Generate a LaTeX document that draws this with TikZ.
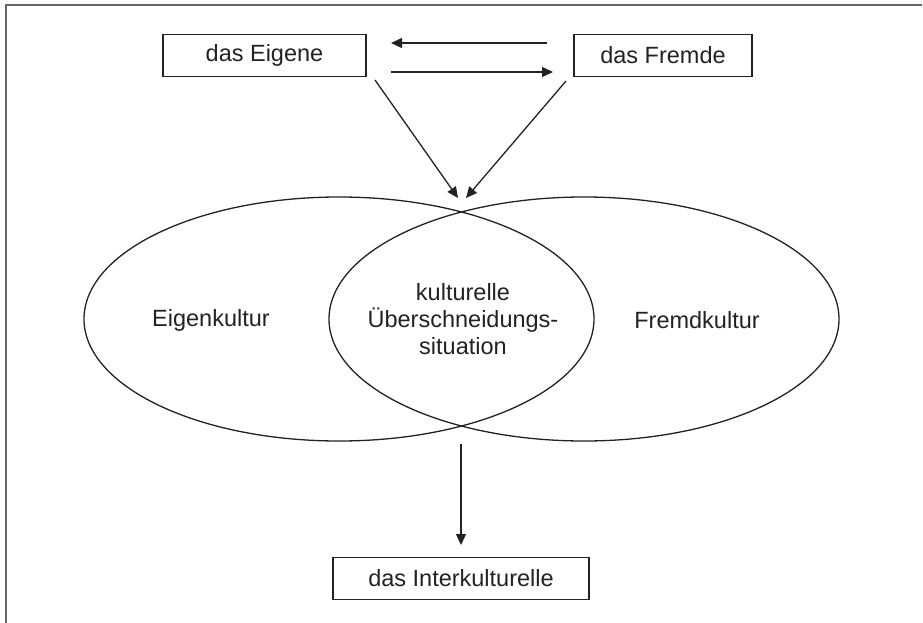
\documentclass[tikz,border=0pt]{standalone}
\usepackage{fontspec}
\setmainfont{Liberation Sans}
\usetikzlibrary{shapes.geometric,arrows.meta}
\definecolor{ink}{HTML}{222222}
\definecolor{framegray}{HTML}{666666}
\begin{document}
\begin{tikzpicture}[x=1pt, y=-1pt, >={Triangle[length=11pt,width=10pt]},
        every node/.style={font=\fontsize{23.5}{27}\selectfont, text=ink},
        box/.style={draw=ink, line width=1.3pt, minimum height=42pt, inner sep=0pt},
        culture/.style={ellipse, draw=ink, line width=1.3pt, minimum width=510pt, minimum height=244pt, inner sep=0pt},
        link/.style={->, draw=ink, line width=1.3pt}]
        \useasboundingbox (0,0) rectangle (923,623);
        % frame on top and left
        \draw[framegray, line width=2pt] (5.5,623) -- (5.5,5.5) -- (922,5.5);

        % boxes
        \node[box, minimum width=203pt] (eigene) at (264.5,55.5) {das Eigene};
        \node[box, minimum width=178pt] (fremde) at (663,55.5) {das Fremde};
        \node[box, minimum width=256pt] (inter) at (461,578.5) {das Interkulturelle};

        % ellipses
        \node[culture] (eigenkultur) at (339,319) {};
        \node[culture] (fremdkultur) at (584,319) {};

        % labels
        \node (eigentext) at (211,320) {Eigenkultur};
        \node (fremdtext) at (697,320) {Fremdkultur};
        \node[align=center] (mitte) at (463,319) {kulturelle\\Überschneidungs-\\situation};

        % end points of the connectors
        \coordinate (a1) at (547,43);
        \coordinate (a2) at (391,43);
        \coordinate (b1) at (391,72);
        \coordinate (b2) at (553,72);
        \coordinate (c1) at (375,80);
        \coordinate (c2) at (458,198);
        \coordinate (d1) at (566,81);
        \coordinate (d2) at (466,198);
        \coordinate (e1) at (461,444);
        \coordinate (e2) at (461,545);

        % connectors
        \draw[link] (a1) -- (a2);
        \draw[link] (b1) -- (b2);
        \draw[link] (c1) -- (c2);
        \draw[link] (d1) -- (d2);
        \draw[link] (e1) -- (e2);
    \end{tikzpicture}
\end{document}
